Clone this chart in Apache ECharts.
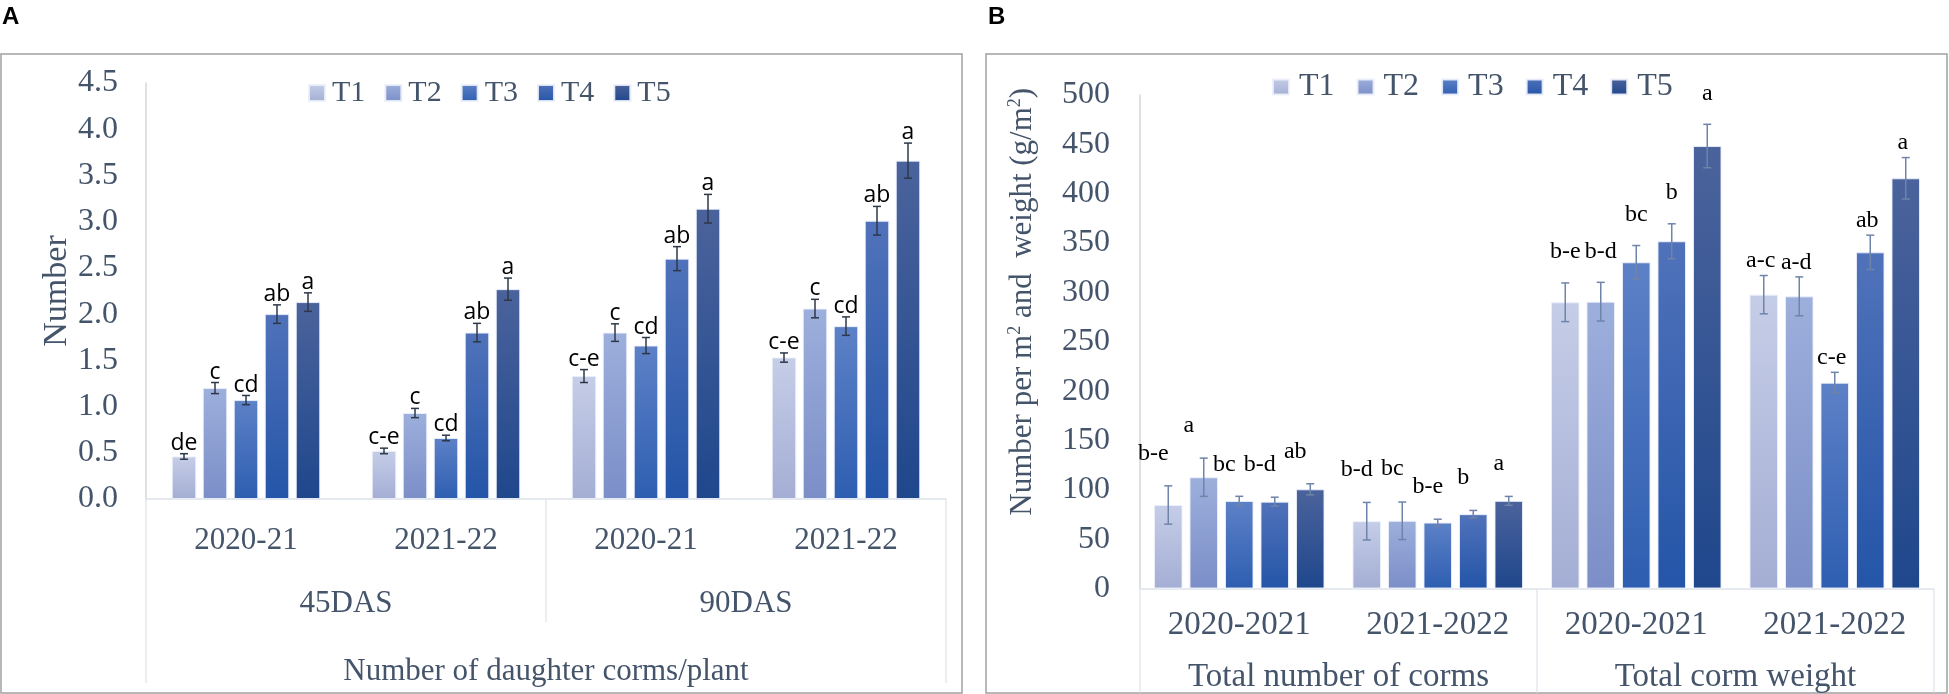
<!DOCTYPE html>
<html><head><meta charset="utf-8">
<script src="https://cdn.jsdelivr.net/npm/echarts@6/dist/echarts.min.js"></script>
<style>html,body{margin:0;padding:0;background:#fff}#c{width:1949px;height:694px}</style>
</head><body><div id="c"></div>
<script>
// ---------------- DATA ----------------
const treatments = ['T1', 'T2', 'T3', 'T4', 'T5'];

// Panel A: Number of daughter corms/plant
const yearsA = ['2020-21', '2021-22', '2020-21', '2021-22'];
const stagesA = ['45DAS', '90DAS'];
const titleA = 'Number of daughter corms/plant';
const yNameA = 'Number';
const yMaxA = 4.5, yStepA = 0.5;
const A_T1 = [0.46, 0.52, 1.33, 1.53];
const A_T2 = [1.20, 0.93, 1.80, 2.06];
const A_T3 = [1.07, 0.66, 1.66, 1.87];
const A_T4 = [2.00, 1.80, 2.60, 3.01];
const A_T5 = [2.13, 2.27, 3.14, 3.66];
const A_err_T1 = [0.03, 0.03, 0.07, 0.05];
const A_err_T2 = [0.06, 0.05, 0.095, 0.10];
const A_err_T3 = [0.05, 0.03, 0.087, 0.10];
const A_err_T4 = [0.10, 0.10, 0.13, 0.155];
const A_err_T5 = [0.10, 0.12, 0.155, 0.19];
const A_let_T1 = ['de', 'c-e', 'c-e', 'c-e'];
const A_let_T2 = ['c', 'c', 'c', 'c'];
const A_let_T3 = ['cd', 'cd', 'cd', 'cd'];
const A_let_T4 = ['ab', 'ab', 'ab', 'ab'];
const A_let_T5 = ['a', 'a', 'a', 'a'];

// Panel B: Total number of corms / total corm weight
const yearsB = ['2020-2021', '2021-2022', '2020-2021', '2021-2022'];
const groupsB = ['Total number of corms', 'Total corm weight'];
const yMaxB = 500, yStepB = 50;
const B_T1 = [84.6, 68.2, 290.0, 297.7];
const B_T2 = [112.7, 68.6, 290.6, 296.0];
const B_T3 = [88.7, 66.8, 330.5, 208.5];
const B_T4 = [88.0, 75.3, 351.8, 340.6];
const B_T5 = [100.5, 88.8, 448.3, 415.6];
const B_err_T1 = [19.4, 19.0, 19.6, 19.4];
const B_err_T2 = [19.4, 19.0, 19.6, 19.7];
const B_err_T3 = [4.7, 3.4, 17.0, 10.5];
const B_err_T4 = [4.5, 3.8, 17.7, 17.4];
const B_err_T5 = [5.6, 4.5, 22.0, 21.0];
const B_let_T1 = ['b-e', 'b-d', 'b-e', 'a-c'];
const B_let_T2 = ['a', 'bc', 'b-d', 'a-d'];
const B_let_T3 = ['bc', 'b-e', 'bc', 'c-e'];
const B_let_T4 = ['b-d', 'b', 'b', 'ab'];
const B_let_T5 = ['ab', 'a', 'a', 'a'];

// ---------------- STYLE ----------------
const serif = '"Liberation Serif", "Times New Roman", serif';
const txt = '#44546a';
const topCols = ['#c5cde7', '#9dafdc', '#5d81c7', '#5072ba', '#4b639c'];
const botCols = ['#a4aed4', '#7b8ec7', '#2e5eb1', '#2455a8', '#1f478c'];
const cfgA = { catGap: 0.2575, barGap: 0.265, errColor: '#2e3848', cap: 4, font: '23px "Open Sans"', gap: [10.5, 10.5, 10.5, 10.5], dx: [0, 0, 0, 0] };
const cfgB = { catGap: 0.141, barGap: 0.245, errColor: '#6e84a8', cap: 4, font: '24px ' + serif, gap: [32, 33, 31, 14.5], dx: [-15, -10, 0, -3] };

function grad(i) {
  return { type: 'linear', x: 0, y: 0, x2: 0, y2: 1,
    colorStops: [{ offset: 0, color: topCols[i] }, { offset: 1, color: botCols[i] }] };
}

function barSeries(name, i, vals, xi, yi, cfg) {
  return {
    type: 'bar', name: name, xAxisIndex: xi, yAxisIndex: yi, data: vals,
    barGap: (cfg.barGap * 100) + '%', barCategoryGap: (cfg.catGap * 100) + '%',
    itemStyle: { color: grad(i), borderColor: 'rgba(235,240,250,0.9)', borderWidth: 1 },
    emphasis: { disabled: true }, z: 2
  };
}

function errSeries(name, s, vals, errs, lets, xi, yi, cfg) {
  return {
    type: 'custom', name: name, xAxisIndex: xi, yAxisIndex: yi, silent: true, z: 5,
    data: vals.map((v, i) => [i, v, errs[i]]),
    encode: { x: 0, y: 1 },
    renderItem: function (params, api) {
      const i = api.value(0), v = api.value(1), e = api.value(2);
      const band = api.size([1, 0])[0];
      const bw = band * (1 - cfg.catGap) / (5 + 4 * cfg.barGap);
      const off = (s - 2) * bw * (1 + cfg.barGap);
      const pt = api.coord([i, v + e]);
      const pb = api.coord([i, v - e]);
      const x = pt[0] + off;
      const ls = { stroke: cfg.errColor, lineWidth: 1.5 };
      return {
        type: 'group', children: [
          { type: 'line', shape: { x1: x, y1: pt[1], x2: x, y2: pb[1] }, style: ls },
          { type: 'line', shape: { x1: x - cfg.cap, y1: pt[1], x2: x + cfg.cap, y2: pt[1] }, style: ls },
          { type: 'line', shape: { x1: x - cfg.cap, y1: pb[1], x2: x + cfg.cap, y2: pb[1] }, style: ls },
          { type: 'text', style: {
              text: lets[params.dataIndex], x: x + cfg.dx[i], y: pt[1] - cfg.gap[i],
              align: 'center', verticalAlign: 'middle',
              textAlign: 'center', textVerticalAlign: 'middle',
              font: cfg.font, fill: '#000' } }
        ]
      };
    }
  };
}

const A_vals = [A_T1, A_T2, A_T3, A_T4, A_T5];
const A_errs = [A_err_T1, A_err_T2, A_err_T3, A_err_T4, A_err_T5];
const A_lets = [A_let_T1, A_let_T2, A_let_T3, A_let_T4, A_let_T5];
const B_vals = [B_T1, B_T2, B_T3, B_T4, B_T5];
const B_errs = [B_err_T1, B_err_T2, B_err_T3, B_err_T4, B_err_T5];
const B_lets = [B_let_T1, B_let_T2, B_let_T3, B_let_T4, B_let_T5];

const series = [];
treatments.forEach((t, i) => series.push(barSeries(t, i, A_vals[i], 0, 0, cfgA)));
treatments.forEach((t, i) => series.push(barSeries(t, i, B_vals[i], 3, 1, cfgB)));
treatments.forEach((t, i) => series.push(errSeries('errA' + t, i, A_vals[i], A_errs[i], A_lets[i], 0, 0, cfgA)));
treatments.forEach((t, i) => series.push(errSeries('errB' + t, i, B_vals[i], B_errs[i], B_lets[i], 3, 1, cfgB)));

const sepColor = '#e3e7ed';
function lbl(size, margin) {
  return { fontSize: size, fontFamily: serif, color: txt, margin: margin, interval: 0 };
}

const option = {
  animation: false,
  backgroundColor: '#fff',
  grid: [
    { left: 146, top: 83, width: 800, height: 416 },
    { left: 1140, top: 95, width: 794, height: 493.5 }
  ],
  legend: [
    { data: treatments, left: 303, top: 73, icon: 'rect', itemWidth: 16, itemHeight: 16, itemGap: 19,
      selectedMode: false, textStyle: { fontSize: 30, fontFamily: serif, color: txt, padding: [0, 0, 0, 2] } },
    { data: treatments, left: 1267, top: 66, icon: 'rect', itemWidth: 16, itemHeight: 15, itemGap: 22,
      selectedMode: false, textStyle: { fontSize: 32, fontFamily: serif, color: txt, padding: [0, 0, 0, 5] } }
  ],
  xAxis: [
    { gridIndex: 0, type: 'category', position: 'bottom', data: yearsA,
      axisLine: { show: true, lineStyle: { color: '#dde3ec', width: 1.5 } }, axisTick: { show: false },
      axisLabel: lbl(31, 26), splitLine: { show: false } },
    { gridIndex: 0, type: 'category', position: 'bottom', data: stagesA,
      axisLine: { show: false }, axisTick: { show: true, length: 123, lineStyle: { color: sepColor, width: 1.5 } },
      axisLabel: lbl(31, 89), splitLine: { show: false } },
    { gridIndex: 0, type: 'category', position: 'bottom', data: [titleA],
      axisLine: { show: false }, axisTick: { show: true, length: 184, lineStyle: { color: sepColor, width: 1.5 } },
      axisLabel: lbl(31, 157), splitLine: { show: false } },
    { gridIndex: 1, type: 'category', position: 'bottom', data: yearsB,
      axisLine: { show: true, lineStyle: { color: '#dde3ec', width: 1.5 } }, axisTick: { show: false },
      axisLabel: lbl(33, 20), splitLine: { show: false } },
    { gridIndex: 1, type: 'category', position: 'bottom', data: groupsB,
      axisLine: { show: false }, axisTick: { show: true, length: 104, lineStyle: { color: sepColor, width: 1.5 } },
      axisLabel: lbl(33, 72), splitLine: { show: false } }
  ],
  yAxis: [
    { gridIndex: 0, type: 'value', min: 0, max: yMaxA, interval: yStepA,
      axisLine: { show: true, lineStyle: { color: '#d6d6d6', width: 1.5 } }, axisTick: { show: false },
      splitLine: { show: false },
      axisLabel: { formatter: v => v.toFixed(1), fontSize: 32, fontFamily: serif, color: txt, margin: 28 },
      name: yNameA, nameLocation: 'middle', nameRotate: 90, nameGap: 68,
      nameTextStyle: { fontSize: 34, fontFamily: serif, color: txt } },
    { gridIndex: 1, type: 'value', min: 0, max: yMaxB, interval: yStepB,
      axisLine: { show: true, lineStyle: { color: '#d6d6d6', width: 1.5 } }, axisTick: { show: false },
      splitLine: { show: false },
      axisLabel: { fontSize: 32, fontFamily: serif, color: txt, margin: 30 },
      name: 'Number per m{sup|2} and  weight (g/m{sup|2})', nameLocation: 'middle', nameRotate: 90, nameGap: 100,
      nameTextStyle: { fontSize: 31, fontFamily: serif, color: txt, lineHeight: 34, padding: [0, 0, 0, 80],
        rich: { sup: { fontSize: 18, fontFamily: serif, color: txt, verticalAlign: 'top', lineHeight: 34 } } } }
  ],
  graphic: [
    { type: 'rect', silent: true, shape: { x: 1, y: 54, width: 961, height: 639 },
      style: { fill: 'none', stroke: '#a0a0a0', lineWidth: 1.5 } },
    { type: 'rect', silent: true, shape: { x: 986, y: 54, width: 961, height: 639 },
      style: { fill: 'none', stroke: '#a0a0a0', lineWidth: 1.5 } },
    { type: 'text', left: 2, top: 5, style: { text: 'A', font: 'bold 24px "Liberation Sans", Arial, sans-serif', fill: '#000' } },
    { type: 'text', left: 988, top: 5, style: { text: 'B', font: 'bold 24px "Liberation Sans", Arial, sans-serif', fill: '#000' } }
  ],
  series: series
};

const chart = echarts.init(document.getElementById('c'), null, { renderer: 'canvas' });
chart.setOption(option);
</script>
</body></html>
